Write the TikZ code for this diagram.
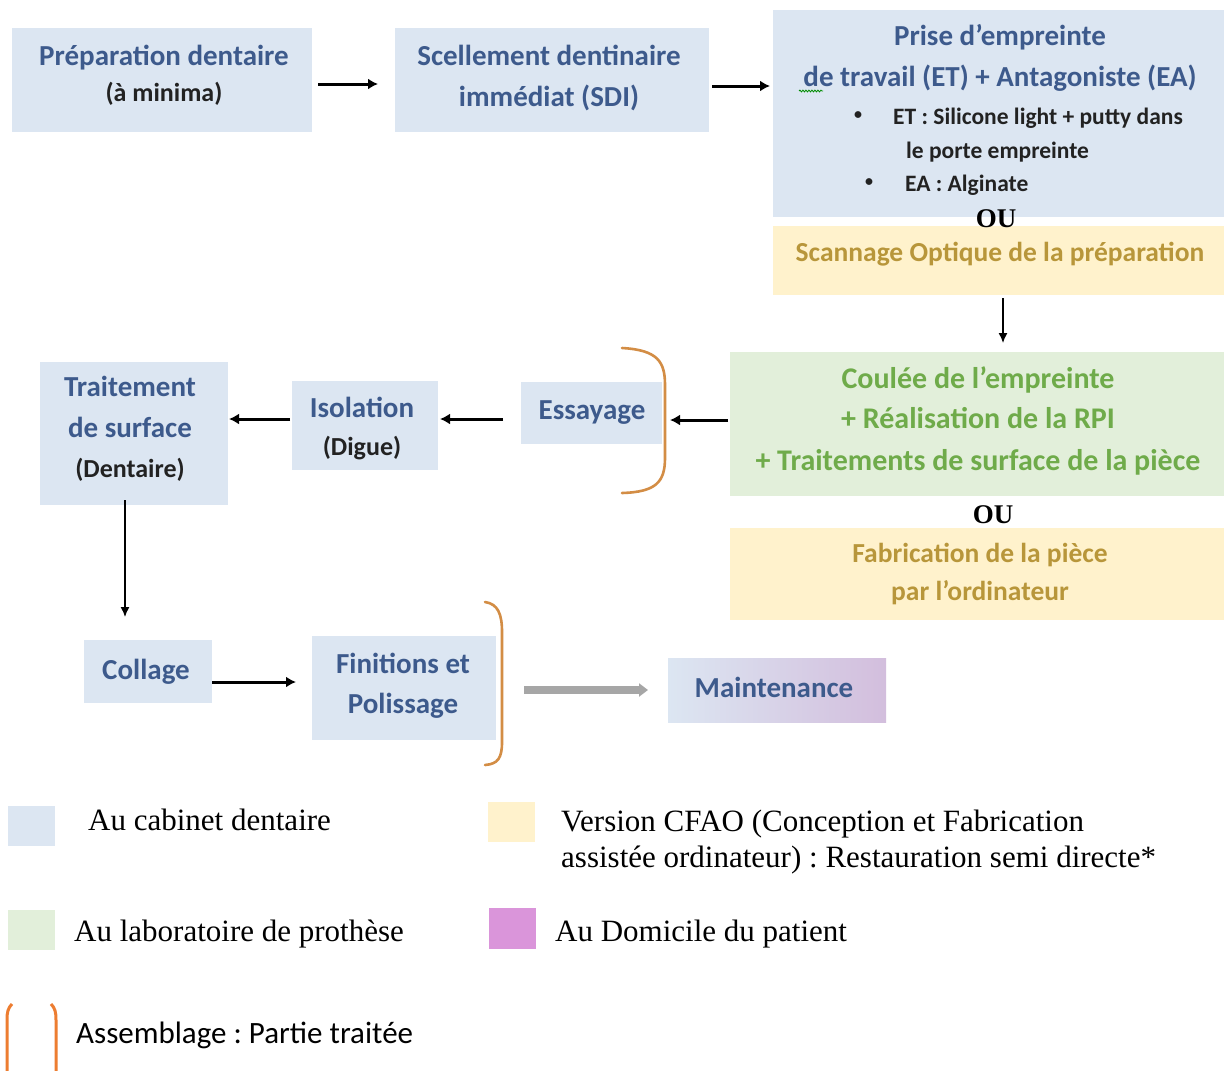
\documentclass[tikz,border=0pt]{standalone}
\usepackage{fontspec}
\setmainfont{Liberation Serif}
\newfontfamily\carl{Carlito}
\usetikzlibrary{arrows.meta,decorations.pathmorphing}
\definecolor{cab}{HTML}{DCE6F2}
\definecolor{lab}{HTML}{E2EFDA}
\definecolor{cfao}{HTML}{FFF2CC}
\definecolor{dom}{HTML}{DA95DA}
\definecolor{maintR}{HTML}{D3BEDD}
\definecolor{tblue}{HTML}{3D5A8C}
\definecolor{tgreen}{HTML}{6FAB4A}
\definecolor{tyellow}{HTML}{B8963A}
\definecolor{tdark}{HTML}{222222}
\definecolor{brkmain}{HTML}{D38D45}
\definecolor{brkleg}{HTML}{ED7D31}
\definecolor{garrow}{HTML}{A6A6A6}
\newcommand\ftitle{\carl\bfseries\fontsize{29}{34}\selectfont}
\newcommand\fgreen{\carl\bfseries\fontsize{30}{34}\selectfont}
\newcommand\fyel{\carl\bfseries\fontsize{27.5}{32}\selectfont}
\newcommand\fsubt{\carl\bfseries\fontsize{26}{30}\selectfont}
\newcommand\fbul{\carl\bfseries\fontsize{23.5}{27}\selectfont}
\newcommand\fdot{\carl\bfseries\fontsize{16}{20}\selectfont}
\newcommand\fleg{\fontsize{31}{36}\selectfont}
\newcommand\flegc{\carl\fontsize{31}{36}\selectfont}
\newcommand\fou{\bfseries\fontsize{27}{30}\selectfont}
\frenchspacing
\begin{document}
\begin{tikzpicture}[x=1pt,y=-1pt,
  box/.style={inner sep=0,outer sep=0},
  bbox/.style={box,fill=cab},
  gbox/.style={box,fill=lab},
  ybox/.style={box,fill=cfao},
  tb/.style={font=\ftitle,text=tblue,anchor=base,inner sep=0},
  tg/.style={font=\fgreen,text=tgreen,anchor=base,inner sep=0},
  ty/.style={font=\fyel,text=tyellow,anchor=base,inner sep=0},
  ts/.style={font=\fsubt,text=tdark,anchor=base,inner sep=0},
  tbul/.style={font=\fbul,text=tdark,anchor=base west,inner sep=0},
  tdot/.style={font=\fdot,text=tdark,anchor=center,inner sep=0},
  tou/.style={font=\fou,text=black,anchor=base,inner sep=0},
  tleg/.style={font=\fleg,text=black,anchor=base west,inner sep=0},
  arr/.style={line width=3pt,-{Latex[length=10pt,width=11pt]}},
  thinarr/.style={line width=1.4pt,-{Latex[length=10pt,width=9pt]}},
  grarr/.style={line width=8pt,draw=garrow,-{Triangle[length=9pt,width=13pt]}},
  brk/.style={draw=brkmain,line width=2.6pt,line cap=round},
  legbrk/.style={draw=brkleg,line width=3pt}]
\useasboundingbox (0,0) rectangle (1224,1071);
\fill[white] (0,0) rectangle (1224,1071);

% boxes
\node[bbox,minimum width=300,minimum height=104] (prep) at (162,80) {};
\node[bbox,minimum width=314,minimum height=104] (sdi) at (552,80) {};
\node[bbox,minimum width=451,minimum height=207] (prise) at (998.5,113.5) {};
\node[ybox,minimum width=451,minimum height=69] (scan) at (998.5,260.5) {};
\node[gbox,minimum width=494,minimum height=144] (green) at (977,424) {};
\node[ybox,minimum width=494,minimum height=92] (fab) at (977,574) {};
\node[bbox,minimum width=141,minimum height=62] (ess) at (591.5,413) {};
\node[bbox,minimum width=146,minimum height=89] (iso) at (365,425.5) {};
\node[bbox,minimum width=188,minimum height=143] (trait) at (134,433.5) {};
\node[bbox,minimum width=128,minimum height=63] (coll) at (148,671.5) {};
\node[bbox,minimum width=184,minimum height=104] (fin) at (404,688) {};
\node[box,minimum width=218,minimum height=64,left color=cab,right color=maintR] (maint) at (777,690) {};

% texts
\node[tb] (prep1) at (164,65) {Préparation dentaire};
\node[ts] (prep2) at (164,101) {(à minima)};
\node[tb] (sdi1) at (549,65) {Scellement dentinaire};
\node[tb] (sdi2) at (549,106) {immédiat (SDI)};
\node[tb] (prise1) at (1000,45) {Prise d’empreinte};
\node[tb] (prise2) at (1000,86) {de travail (ET) + Antagoniste (EA)};
\node[tdot] (bulA) at (858,116) {•};
\node[tbul] (bul1) at (893,124) {ET : Silicone light + putty dans};
\node[tbul] (bul2) at (906,158) {le porte empreinte};
\node[tdot] (bulB) at (869,183) {•};
\node[tbul] (bul3) at (905,191) {EA : Alginate};
\node[tou] (ou1) at (996,227) {OU};
\node[ty] (scan1) at (1000,261) {Scannage Optique de la préparation};
\node[tg] (green1) at (978,388) {Coulée de l’empreinte};
\node[tg] (green2) at (978,428) {+ Réalisation de la RPI};
\node[tg] (green3) at (978,470) {+ Traitements de surface de la pièce};
\node[tou] (ou2) at (993,523) {OU};
\node[ty] (fab1) at (980,562) {Fabrication de la pièce};
\node[ty] (fab2) at (980,600) {par l’ordinateur};
\node[tb] (ess1) at (592,419) {Essayage};
\node[tb] (iso1) at (362,417) {Isolation};
\node[ts] (iso2) at (362,455) {(Digue)};
\node[tb] (trait1) at (130,396) {Traitement};
\node[tb] (trait2) at (130,437) {de surface};
\node[ts] (trait3) at (130,477) {(Dentaire)};
\node[tb] (coll1) at (146,679) {Collage};
\node[tb] (fin1) at (403,673) {Finitions et};
\node[tb] (fin2) at (403,713) {Polissage};
\node[tb] (maint1) at (774,697) {Maintenance};

% spell-check squiggle under "de"
\draw[green!55!black,line width=0.8pt,decorate,decoration={snake,amplitude=0.9pt,segment length=3pt}] (799,91) -- (823,91);

% connectors
\draw[arr,shorten <=6pt,shorten >=17pt] ([yshift=-4pt]prep.east) -- ([yshift=-4pt]sdi.west);
\draw[arr,shorten <=3pt,shorten >=3pt] ([yshift=-6pt]sdi.east) -- ([yshift=-6pt]sdi.east -| prise.west);
\draw[thinarr,shorten <=3pt,shorten >=9pt] ([xshift=4.5pt]scan.south) -- ([xshift=4.5pt]scan.south |- green.north);
\draw[arr,shorten <=2pt,shorten >=8pt] ([yshift=4pt]green.west) -- ([yshift=4pt]green.west -| ess.east);
\draw[arr,shorten <=18pt,shorten >=2pt] ([yshift=-6pt]ess.west) -- ([yshift=-6pt]ess.west -| iso.east);
\draw[arr,shorten <=2pt,shorten >=1pt] ([yshift=6.5pt]iso.west) -- ([yshift=6.5pt]iso.west -| trait.east);
\draw[thinarr,shorten <=-5pt,shorten >=23pt] ([xshift=-9pt]trait.south) -- ([xshift=-9pt]trait.south |- coll.north);
\draw[arr,shorten <=0pt,shorten >=16pt] ([yshift=-10.5pt]coll.east) -- ([yshift=-10.5pt]coll.east -| fin.west);
\draw[grarr,shorten <=28pt,shorten >=20pt] (fin.east |- maint.west) -- (maint.west);

% assembly brackets
\draw[brk] (622,348) .. controls (658,350) and (665,362) .. (665,385) -- (665,458) .. controls (665,482) and (656,492) .. (622,493);
\draw[brk] (485,602) .. controls (498,604) and (502,614) .. (502,632) -- (502,742) .. controls (502,758) and (498,764) .. (485,765);

% legend
\node[box,fill=cab,minimum width=47,minimum height=40] (lcab) at (31.5,826) {};
\node[tleg] (lcabt) at (88,830) {Au cabinet dentaire};
\node[box,fill=cfao,minimum width=47,minimum height=40] (lcfao) at (511.5,822) {};
\node[tleg] (lcfao1) at (561,831) {Version CFAO (Conception et Fabrication};
\node[tleg] (lcfao2) at (561,867) {assistée ordinateur) : Restauration semi directe*};
\node[box,fill=lab,minimum width=47,minimum height=40] (llab) at (31.5,930) {};
\node[tleg] (llabt) at (74,941) {Au laboratoire de prothèse};
\node[box,fill=dom,minimum width=47,minimum height=41] (ldom) at (512.5,928.5) {};
\node[tleg] (ldomt) at (555,941) {Au Domicile du patient};
\draw[legbrk] (12,1004) .. controls (8,1008) and (7,1012) .. (7,1020) -- (7,1071);
\draw[legbrk] (51,1004) .. controls (55,1008) and (56,1012) .. (56,1020) -- (56,1071);
\node[tleg,font=\flegc] (lasm) at (76,1043) {Assemblage : Partie traitée};
\end{tikzpicture}
\end{document}
